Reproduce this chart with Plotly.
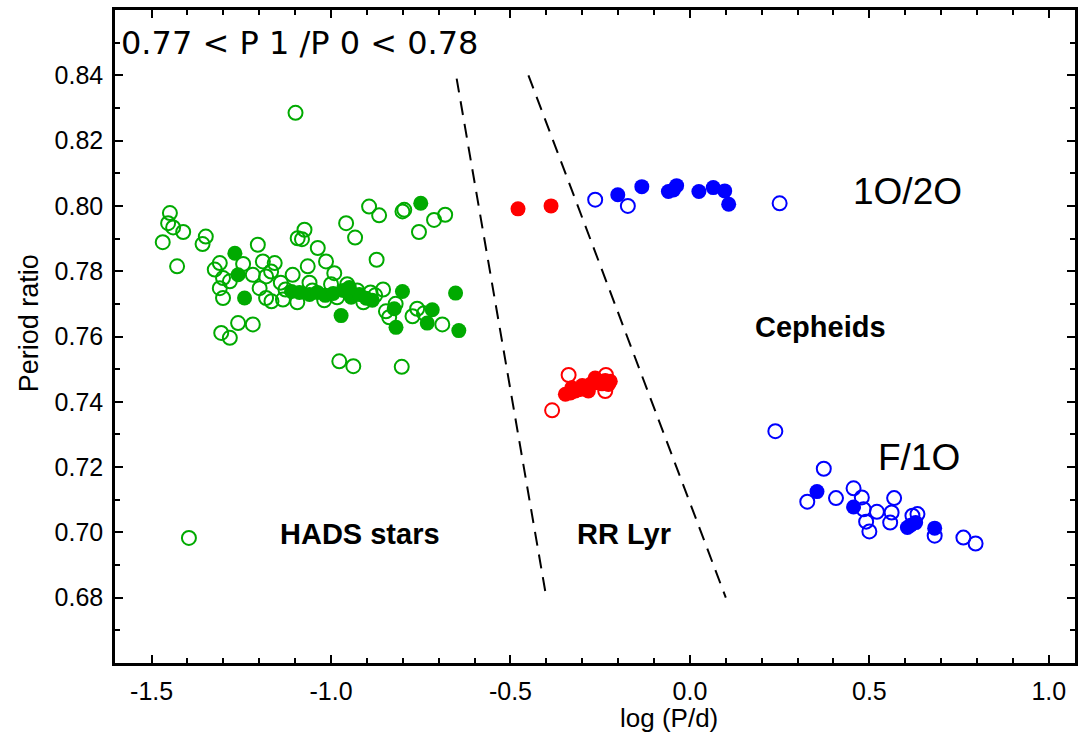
import plotly.graph_objects as go

# ---------------- data (log P/d, period ratio) ----------------
hads_open_logp = [-1.449, -1.454, -1.440, -1.412, -1.469, -1.349, -1.358, -1.429, -1.204, -1.310,
                  -1.324, -1.301, -1.310, -1.301, -1.190, -1.157, -1.218, -1.181, -1.167, -1.199,
                  -1.181, -1.134, -1.107, -1.306, -1.282, -1.259, -1.218, -1.093, -1.282, -1.396,
                  -1.099, -1.074, -1.081, -1.037, -1.014, -0.991, -1.065, -0.958, -0.933, -0.894,
                  -0.866, -0.873, -0.801, -0.796, -0.755, -0.713, -0.682, -0.855, -0.847, -0.838,
                  -0.773, -0.690, -0.741, -0.977, -0.938, -0.803, -1.127, -1.094, -1.052, -1.019,
                  -0.983, -0.927, -0.910, -0.877, -1.166, -1.245, -1.140, -1.060, -1.000, -0.955,
                  -0.890, -0.760, -0.820]
hads_open_ratio = [0.7978, 0.7947, 0.7934, 0.7920, 0.7889, 0.7906, 0.7883, 0.7815, 0.7881, 0.7825,
                   0.7805, 0.7779, 0.7748, 0.7718, 0.7830, 0.7825, 0.7789, 0.7784, 0.7799, 0.7748,
                   0.7718, 0.7713, 0.7789, 0.7611, 0.7596, 0.7641, 0.7637, 0.7901, 0.7769, 0.6983,
                   0.8285, 0.7927, 0.7898, 0.7871, 0.7830, 0.7794, 0.7815, 0.7947, 0.7903, 0.7998,
                   0.7971, 0.7835, 0.7983, 0.7988, 0.7920, 0.7957, 0.7973, 0.7744, 0.7677, 0.7659,
                   0.7662, 0.7637, 0.7671, 0.7524, 0.7509, 0.7507, 0.7744, 0.7705, 0.7741, 0.7711,
                   0.7720, 0.7741, 0.7705, 0.7726, 0.7708, 0.7822, 0.7765, 0.7765, 0.7760, 0.7760,
                   0.7735, 0.7685, 0.7700]

hads_fill_logp = [-1.268, -1.259, -1.241, -0.750, -0.801, -0.653, -0.972, -0.824, -0.819, -0.718,
                  -0.732, -0.644, -1.110, -1.088, -1.060, -1.038, -1.016, -0.994, -0.966, -0.944,
                  -0.921, -0.902, -0.885, -0.949]
hads_fill_ratio = [0.7855, 0.7789, 0.7718, 0.8008, 0.7738, 0.7733, 0.7664, 0.7685, 0.7628, 0.7682,
                   0.7641, 0.7618, 0.7738, 0.7735, 0.7729, 0.7735, 0.7726, 0.7732, 0.7741, 0.7720,
                   0.7729, 0.7717, 0.7711, 0.7750]

rrl_open_logp = [-0.384, -0.338, -0.234, -0.236]
rrl_open_ratio = [0.7374, 0.7482, 0.7482, 0.7433]

rrl_fill_logp = [-0.479, -0.387, -0.347, -0.333, -0.319, -0.306, -0.292, -0.278, -0.264, -0.250,
                 -0.236, -0.222, -0.227, -0.283, -0.329, -0.264, -0.300, -0.245]
rrl_fill_ratio = [0.7991, 0.8000, 0.7423, 0.7427, 0.7433, 0.7438, 0.7445, 0.7453, 0.7458, 0.7463,
                  0.7465, 0.7463, 0.7453, 0.7433, 0.7443, 0.7473, 0.7450, 0.7455]

cep_open_logp = [-0.264, -0.173, 0.250,
                 0.238, 0.373, 0.327, 0.407, 0.456, 0.479, 0.484, 0.521, 0.491, 0.500,
                 0.569, 0.562, 0.558, 0.620, 0.634, 0.682, 0.762, 0.796]
cep_open_ratio = [0.8019, 0.8000, 0.8008,
                  0.7310, 0.7195, 0.7094, 0.7105, 0.7135, 0.7107, 0.7071, 0.7063, 0.7033, 0.7003,
                  0.7105, 0.7061, 0.7030, 0.7051, 0.7056, 0.6990, 0.6984, 0.6966]

cep_fill_logp = [-0.201, -0.134, -0.060, -0.037, -0.046, 0.025, 0.065, 0.097, 0.108,
                 0.354, 0.456, 0.606, 0.629, 0.682, 0.615]
cep_fill_ratio = [0.8034, 0.8059, 0.8044, 0.8062, 0.8049, 0.8044, 0.8056, 0.8046, 0.8005,
                  0.7125, 0.7078, 0.7015, 0.7030, 0.7013, 0.7022]

boundary1_logp = [-0.65, -0.40]
boundary1_ratio = [0.839, 0.680]
boundary2_logp = [-0.45, 0.10]
boundary2_ratio = [0.840, 0.680]

x_tick_vals = [-1.5, -1.0, -0.5, 0.0, 0.5, 1.0]
x_tick_text = ["-1.5", "-1.0", "-0.5", "0.0", "0.5", "1.0"]
y_tick_vals = [0.68, 0.70, 0.72, 0.74, 0.76, 0.78, 0.80, 0.82, 0.84]
y_tick_text = ["0.68", "0.70", "0.72", "0.74", "0.76", "0.78", "0.80", "0.82", "0.84"]

# ---------------- figure ----------------
GREEN = "#00aa00"
RED = "#ff0000"
BLUE = "#0000ff"
SANS = "Liberation Sans, Arial, sans-serif"

fig = go.Figure()


def open_trace(x, y, c):
    return go.Scatter(x=x, y=y, mode="markers", showlegend=False, hoverinfo="skip",
                      marker=dict(symbol="circle-open", size=14, color=c, line=dict(width=2, color=c)))


def fill_trace(x, y, c):
    return go.Scatter(x=x, y=y, mode="markers", showlegend=False, hoverinfo="skip",
                      marker=dict(symbol="circle", size=15, color=c, line=dict(width=0)))


for bx, by in [(boundary1_logp, boundary1_ratio), (boundary2_logp, boundary2_ratio)]:
    fig.add_trace(go.Scatter(x=bx, y=by, mode="lines", showlegend=False, hoverinfo="skip",
                             line=dict(color="black", width=2, dash="14px,9px")))

fig.add_trace(open_trace(hads_open_logp, hads_open_ratio, GREEN))
fig.add_trace(fill_trace(hads_fill_logp, hads_fill_ratio, GREEN))
fig.add_trace(open_trace(rrl_open_logp, rrl_open_ratio, RED))
fig.add_trace(fill_trace(rrl_fill_logp, rrl_fill_ratio, RED))
fig.add_trace(open_trace(cep_open_logp, cep_open_ratio, BLUE))
fig.add_trace(fill_trace(cep_fill_logp, cep_fill_ratio, BLUE))

tickfont = dict(family=SANS, size=25, color="black")

fig.update_xaxes(range=[-1.602, 1.073], tickmode="array", tickvals=x_tick_vals, ticktext=x_tick_text,
                 ticks="inside", ticklen=8, tickwidth=2, tickcolor="black",
                 minor=dict(ticks="inside", tickmode="linear", tick0=0, dtick=0.1, ticklen=5,
                            tickwidth=2, tickcolor="black"),
                 showline=True, linewidth=2.5, linecolor="black", mirror="ticks",
                 showgrid=False, zeroline=False, tickfont=tickfont, ticklabelstandoff=4)
fig.update_yaxes(range=[0.66, 0.86], tickmode="array", tickvals=y_tick_vals, ticktext=y_tick_text,
                 ticks="inside", ticklen=8, tickwidth=2, tickcolor="black",
                 minor=dict(ticks="inside", tickmode="linear", tick0=0, dtick=0.01, ticklen=5,
                            tickwidth=2, tickcolor="black"),
                 showline=True, linewidth=2.5, linecolor="black", mirror="ticks",
                 showgrid=False, zeroline=False, tickfont=tickfont, ticklabelstandoff=4)

bold = dict(family=SANS, size=29, color="black")
big = dict(family=SANS, size=37, color="black")

fig.add_annotation(x=0.004, y=0.949, xref="paper", yref="paper", xanchor="left", yanchor="middle",
                   text="0.77 < P 1 /P 0 < 0.78", showarrow=False,
                   font=dict(family="DejaVu Sans", size=32, color="black"))
fig.add_annotation(x=0.606, y=0.8044, text="1O/2O", showarrow=False, font=big)
fig.add_annotation(x=0.637, y=0.7228, text="F/1O", showarrow=False, font=big)
fig.add_annotation(x=0.365, y=0.7628, text="<b>Cepheids</b>", showarrow=False, font=bold)
fig.add_annotation(x=-0.918, y=0.6996, text="<b>HADS stars</b>", showarrow=False, font=bold)
fig.add_annotation(x=-0.185, y=0.6996, text="<b>RR Lyr</b>", showarrow=False, font=bold)

fig.add_annotation(x=-0.0888, y=0.52, xref="paper", yref="paper", text="Period ratio",
                   textangle=-90, showarrow=False, xanchor="center", yanchor="middle",
                   font=dict(family=SANS, size=27, color="black"))
fig.add_annotation(x=0.577, y=-0.0842, xref="paper", yref="paper", text="log (P/d)",
                   showarrow=False, xanchor="center", yanchor="middle",
                   font=dict(family=SANS, size=26, color="black"))

fig.update_layout(width=1080, height=734, margin=dict(l=115, r=2, t=10, b=71),
                  plot_bgcolor="white", paper_bgcolor="white", showlegend=False)

fig.write_html("out.html", config={"displayModeBar": False},
               post_script="document.body.style.margin='0';")
